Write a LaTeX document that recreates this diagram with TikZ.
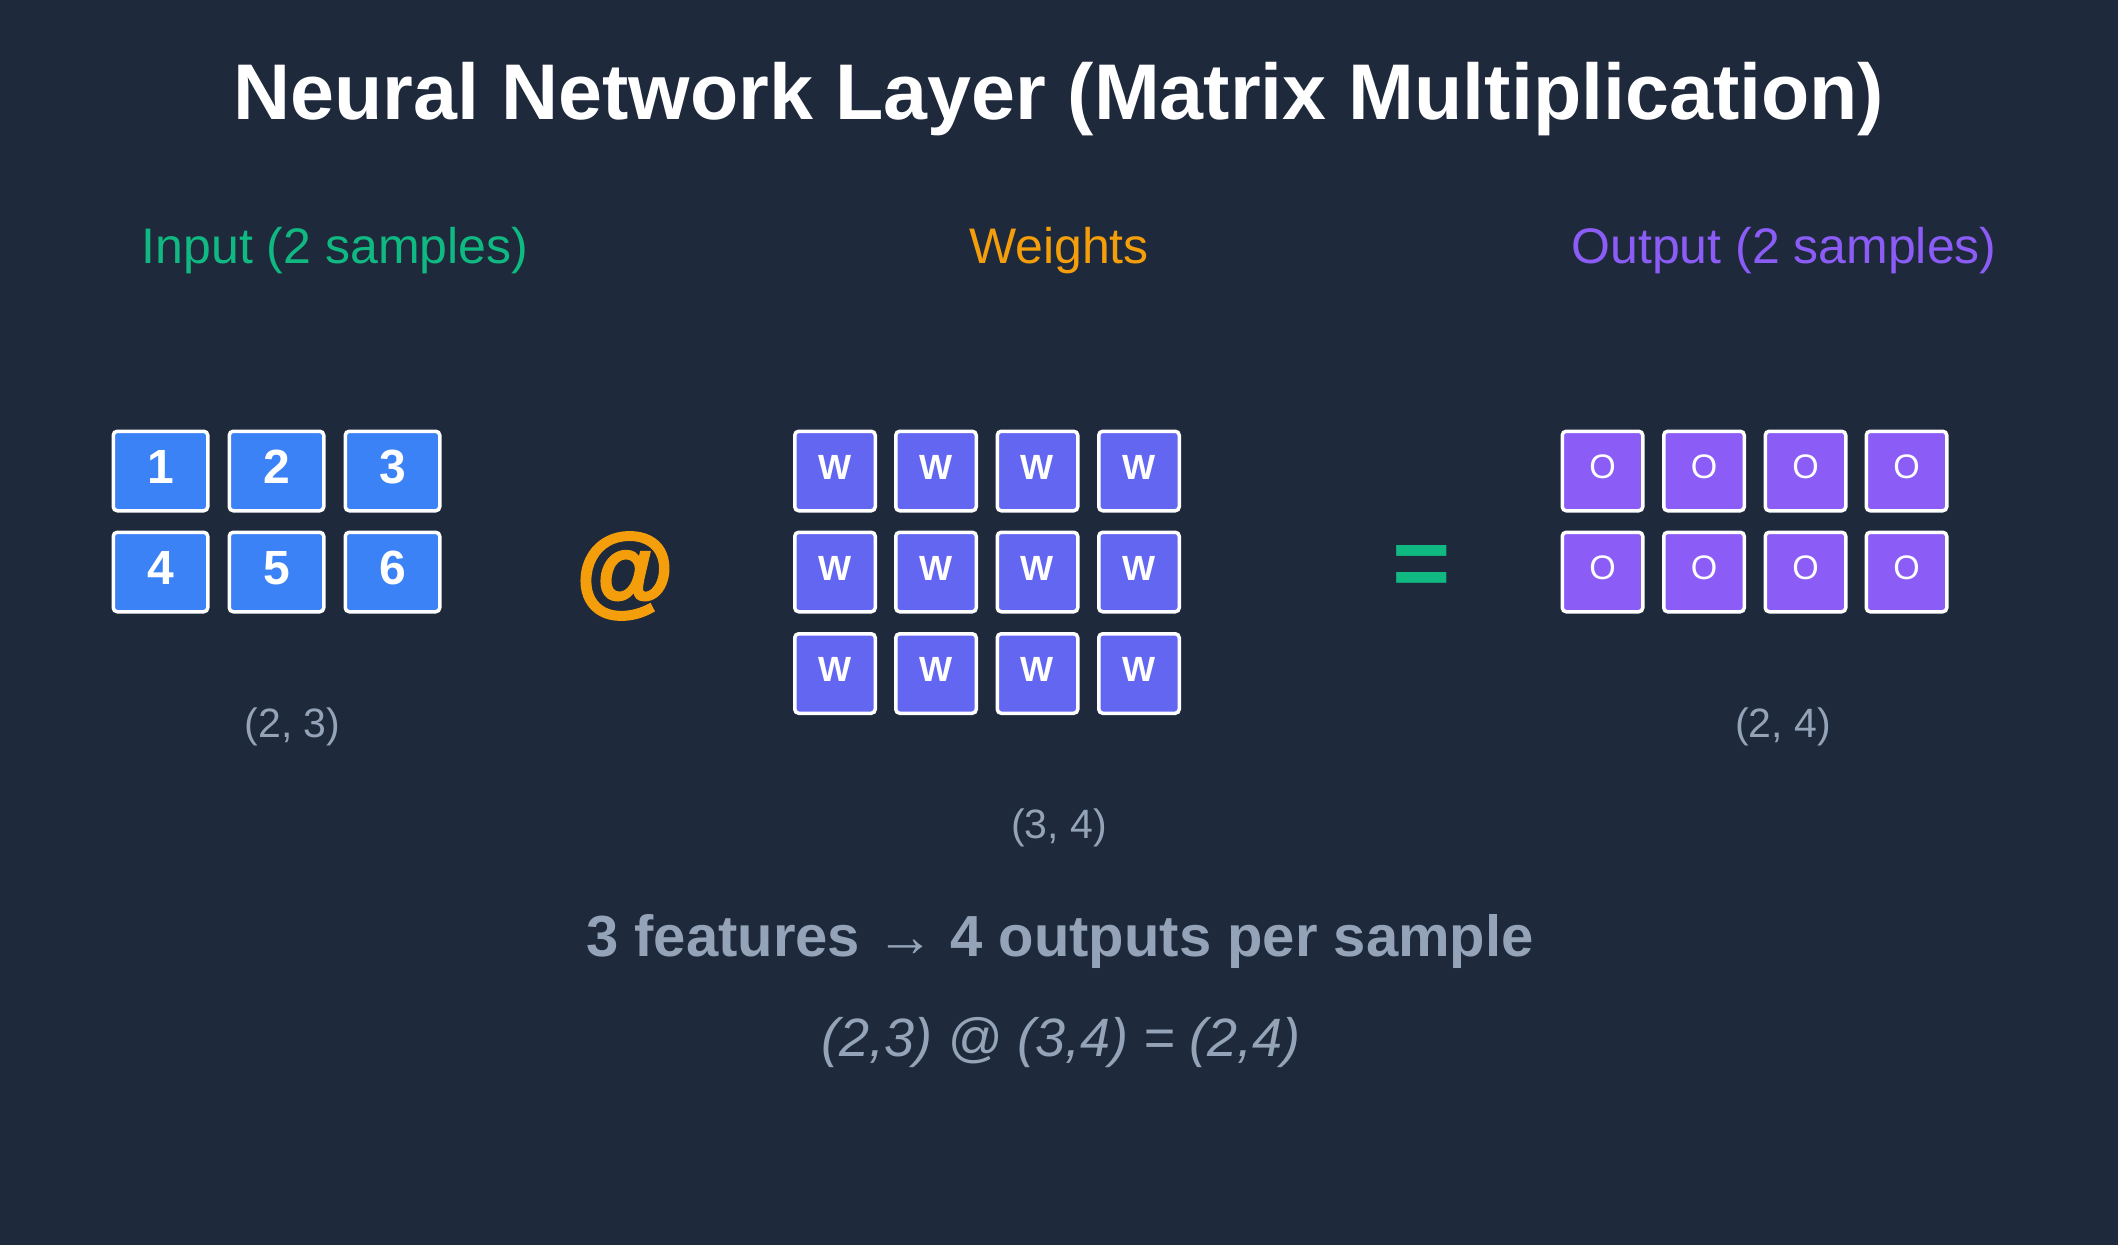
\documentclass[tikz,border=0pt]{standalone}
\usepackage{fontspec}
\setmainfont{Liberation Sans}
\definecolor{Slate}{HTML}{1E293B}
\definecolor{InBlue}{HTML}{3B82F6}
\definecolor{WIndigo}{HTML}{6366F1}
\definecolor{OViolet}{HTML}{8B5CF6}
\definecolor{Mint}{HTML}{10B981}
\definecolor{Amber}{HTML}{F59E0B}
\definecolor{Muted}{HTML}{94A3B8}
\newcommand{\fsz}[1]{\fontsize{#1}{#1}\selectfont}
\newcommand{\heavy}[1]{\special{pdf:code 2 Tr 3 w}#1\special{pdf:code 0 Tr 1 w}}
\tikzset{
  cell/.style={rectangle,draw=white,line width=3.5pt,rounded corners=4pt,text=white,minimum width=80.5pt,minimum height=79.5pt,inner sep=0pt,text depth=8pt},
  incell/.style={cell,fill=InBlue,minimum width=94.5pt,font=\fsz{48}\bfseries},
  wcell/.style={cell,fill=WIndigo,font=\fsz{35}\bfseries},
  ocell/.style={cell,fill=OViolet,font=\fsz{34}},
  txt/.style={anchor=base,inner sep=0pt},
  head/.style={txt,font=\fsz{50}},
  dimlab/.style={txt,font=\fsz{41},text=Muted},
  opsym/.style={font=\fsz{100}\bfseries,inner sep=0pt}
}

\begin{document}
\begin{tikzpicture}[x=1pt,y=-1pt]
  \fill[Slate] (0,0) rectangle (2118,1245);
  \useasboundingbox (0,0) rectangle (2118,1245);

  \node[txt,font=\fsz{79}\bfseries,text=white] (title) at (1059,119) {Neural Network Layer (Matrix Multiplication)};

  % headings
  \node[head,text=Mint] (hin) at (335,263) {Input (2 samples)};
  \node[head,text=Amber] (hw) at (1059,263) {Weights};
  \node[head,text=OViolet] (hout) at (1784,263) {Output (2 samples)};

  % input (2,3)
  \node[incell] (in1) at (160.5,471) {1}; \node[incell] (in2) at (276.5,471) {2}; \node[incell] (in3) at (392.5,471) {3};
  \node[incell] (in4) at (160.5,572) {4}; \node[incell] (in5) at (276.5,572) {5}; \node[incell] (in6) at (392.5,572) {6};
  \node[dimlab] (din) at (292.5,737) {(2, 3)};

  \node[opsym,text=Amber] (at) at (625,576) {\heavy{@}};

  % weights (3,4)
  \node[wcell] (w11) at (835,471) {W}; \node[wcell] (w12) at (936,471) {W}; \node[wcell] (w13) at (1037.5,471) {W}; \node[wcell] (w14) at (1139,471) {W};
  \node[wcell] (w21) at (835,572) {W}; \node[wcell] (w22) at (936,572) {W}; \node[wcell] (w23) at (1037.5,572) {W}; \node[wcell] (w24) at (1139,572) {W};
  \node[wcell] (w31) at (835,673.5) {W}; \node[wcell] (w32) at (936,673.5) {W}; \node[wcell] (w33) at (1037.5,673.5) {W}; \node[wcell] (w34) at (1139,673.5) {W};
  \node[dimlab] (dw) at (1059,838) {(3, 4)};

  \node[opsym,text=Mint] (eq) at (1422,571) {=};

  % output (2,4)
  \node[ocell] (o11) at (1602.5,471) {O}; \node[ocell] (o12) at (1704,471) {O}; \node[ocell] (o13) at (1805.5,471) {O}; \node[ocell] (o14) at (1906.5,471) {O};
  \node[ocell] (o21) at (1602.5,572) {O}; \node[ocell] (o22) at (1704,572) {O}; \node[ocell] (o23) at (1805.5,572) {O}; \node[ocell] (o24) at (1906.5,572) {O};
  \node[dimlab] (dout) at (1783,737) {(2, 4)};

  % summary
  \node[txt,font=\fsz{58}\bfseries,text=Muted] (sum) at (1060,956) {3 features → 4 outputs per sample};
  \node[txt,font=\fsz{54}\itshape,text=Muted] (shape) at (1061,1056) {(2,3) @ (3,4) = (2,4)};
\end{tikzpicture}
\end{document}
